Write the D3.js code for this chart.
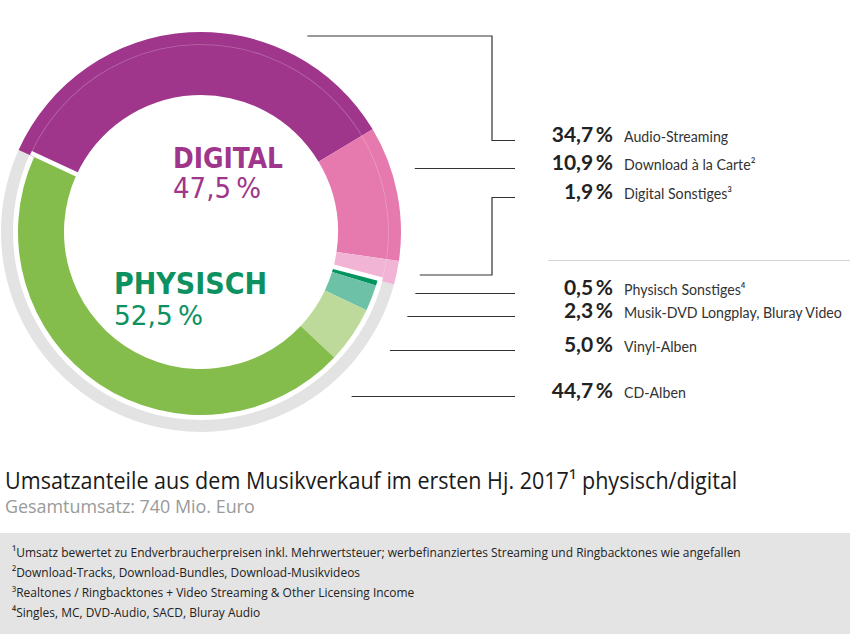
<!DOCTYPE html>
<html><head><meta charset="utf-8">
<script src="https://cdn.jsdelivr.net/npm/d3@7/dist/d3.min.js"></script>
<style>body{margin:0;background:#fff}svg{display:block}</style>
</head><body>
<svg id="chart" width="850" height="634"></svg>
<script>
// ---------- data ----------
const categories = ["Audio-Streaming","Download à la Carte","Digital Sonstiges","Physisch Sonstiges","Musik-DVD Longplay, Bluray Video","Vinyl-Alben","CD-Alben"];
const noteMarks = ["","²","³","⁴","","",""];
const values = [34.7, 10.9, 1.9, 0.5, 2.3, 5.0, 44.7];
const groupOf = [0,0,0,1,1,1,1];
const groupNames = ["DIGITAL","PHYSISCH"];
const groupShares = [47.5, 52.5];
const colors = ["#9f368b","#e67aae","#f1b4d4","#00955e","#6dc1a6","#bdda9b","#85bd4c"];
const groupColors = ["#9f368b","#0e9161"];
const title = "Umsatzanteile aus dem Musikverkauf im ersten Hj. 2017¹ physisch/digital";
const subtitle = "Gesamtumsatz: 740 Mio. Euro";
const footnotes = [
  "¹Umsatz bewertet zu Endverbraucherpreisen inkl. Mehrwertsteuer; werbefinanziertes Streaming und Ringbacktones wie angefallen",
  "²Download-Tracks, Download-Bundles, Download-Musikvideos",
  "³Realtones / Ringbacktones + Video Streaming & Other Licensing Income",
  "⁴Singles, MC, DVD-Audio, SACD, Bluray Audio"
];

// ---------- layout ----------
const svg = d3.select("#chart");
const fmt = v => d3.format(".1f")(v).replace(".", ",") + "\u2009%";
const deg = Math.PI / 180;
const cx = 201, cy = 232;
const rIn = 137, rOutD = 200, rOutP = 183, rGrayIn = 188, rGrayOut = 200;
const start = -65.8 * deg;

const pie = d3.pie().sort(null).value(d => d).startAngle(start).endAngle(start + 2 * Math.PI);
const arcs = pie(values);
const g = svg.append("g").attr("transform", `translate(${cx},${cy})`);

const phys = arcs.filter((a, i) => groupOf[i] === 1);
const pStart = d3.min(phys, a => a.startAngle), pEnd = d3.max(phys, a => a.endAngle);
g.append("path")
  .attr("d", d3.arc()({innerRadius: rGrayIn, outerRadius: rGrayOut, startAngle: pStart, endAngle: pEnd}))
  .attr("fill", "#e3e3e3");

g.selectAll("path.seg").data(arcs).join("path").attr("class", "seg")
  .attr("d", d => d3.arc().innerRadius(rIn).outerRadius(groupOf[d.index] === 0 ? rOutD : rOutP)(d))
  .attr("fill", d => colors[d.index]);

// faint inner guide line in digital part
const dig = arcs.filter((a, i) => groupOf[i] === 0);
g.append("path")
  .attr("d", d3.arc()({innerRadius: 187, outerRadius: 187.8, startAngle: d3.min(dig, a => a.startAngle), endAngle: d3.max(dig, a => a.endAngle)}))
  .attr("fill", "rgba(255,255,255,0.25)");

// white separators between digital and physical
const polar = (r, a) => [r * Math.sin(a), -r * Math.cos(a)];
[pEnd - 2 * Math.PI + 0.7 * deg, pStart - 0.5 * deg].forEach(a => {
  const p0 = polar(rIn - 6, a), p1 = polar(rGrayIn - 0.5, a);
  g.append("line").attr("x1", p0[0]).attr("y1", p0[1]).attr("x2", p1[0]).attr("y2", p1[1])
    .attr("stroke", "#fff").attr("stroke-width", 4.5);
});

// center labels
const cl = [
  {t: groupNames[0], x: 173, y: 168, fs: 29, w: 110, bold: true, c: groupColors[0]},
  {t: fmt(groupShares[0]), x: 173, y: 198, fs: 28, w: 88, bold: false, c: groupColors[0]},
  {t: groupNames[1], x: 114, y: 294, fs: 31, w: 153, bold: true, c: groupColors[1]},
  {t: fmt(groupShares[1]), x: 114, y: 325, fs: 27, w: 89, bold: false, c: groupColors[1]}
];
cl.forEach(d => {
  svg.append("text").attr("x", d.x).attr("y", d.y).text(d.t)
    .attr("font-family", "'DejaVu Sans Condensed','Liberation Sans Narrow',Roboto,sans-serif")
    .attr("font-weight", d.bold ? "bold" : "normal").attr("font-size", d.fs)
    .attr("textLength", d.w).attr("lengthAdjust", "spacingAndGlyphs")
    .attr("fill", d.c);
});

// right labels + leaders
const labelBase = [142, 170, 199, 295, 318, 352, 398];
const elbowY = [36, null, 275, null, null, null, null];
const rLead = 223, elbowX = 492, lineEnd = 515;
const xOnRing = y => cx + Math.sqrt(rLead * rLead - (y - cy) * (y - cy));
const labelTexts = [];
categories.forEach((c, i) => {
  const ly = labelBase[i] - 1.5;
  let d;
  if (elbowY[i] != null) {
    d = `M${xOnRing(elbowY[i])},${elbowY[i]}H${elbowX}V${ly}H${lineEnd}`;
  } else {
    d = `M${xOnRing(ly)},${ly}H${lineEnd}`;
  }
  svg.append("path").attr("d", d).attr("fill", "none").attr("stroke", "#333").attr("stroke-width", 1.2);
  svg.append("text").attr("x", 613).attr("y", labelBase[i]).attr("text-anchor", "end")
    .attr("font-family", "Lato, 'Open Sans', sans-serif").attr("font-weight", "bold").attr("font-size", 21)
    .attr("fill", "#222").text(fmt(values[i]));
  labelTexts.push(svg.append("text").attr("y", labelBase[i])
    .attr("font-family", "Lato, 'Open Sans', sans-serif").attr("font-size", 15)
    .attr("fill", "#333").text(c + noteMarks[i]));
});
// condense label font so the longest label fits as in the reference
const kl = 218 / labelTexts[4].node().getComputedTextLength();
labelTexts.forEach(t => t.attr("x", 0).attr("transform", `translate(624,0) scale(${kl},1)`));

svg.append("line").attr("x1", 548).attr("x2", 850).attr("y1", 260.5).attr("y2", 260.5)
  .attr("stroke", "#d3d3d3").attr("stroke-width", 1);

// title, subtitle, footnotes
function fitX(sel, x, width) {
  const w = sel.node().getComputedTextLength();
  const k = width / w;
  sel.attr("x", 0).attr("transform", `translate(${x},0) scale(${k},1)`);
  return k;
}
const tt = svg.append("text").attr("y", 489).text(title)
  .attr("font-family", "'Open Sans', sans-serif").attr("font-weight", 400).attr("font-size", 23).attr("fill", "#1a1a1a");
fitX(tt, 5, 733);
const st = svg.append("text").attr("y", 513).text(subtitle)
  .attr("font-family", "'Open Sans', sans-serif").attr("font-size", 18).attr("fill", "#9a9a9a");
fitX(st, 5, 250);

svg.append("rect").attr("x", 0).attr("y", 533).attr("width", 850).attr("height", 101).attr("fill", "#e4e4e4");
const fnBase = [557, 577, 597, 617];
let kf = 1;
footnotes.forEach((f, i) => {
  const t = svg.append("text").attr("y", fnBase[i]).text(f)
    .attr("font-family", "'Open Sans', sans-serif").attr("font-size", 13.5).attr("fill", "#222");
  if (i === 0) kf = fitX(t, 12, 729);
  else t.attr("x", 0).attr("transform", `translate(12,0) scale(${kf},1)`);
});
</script>
</body></html>
